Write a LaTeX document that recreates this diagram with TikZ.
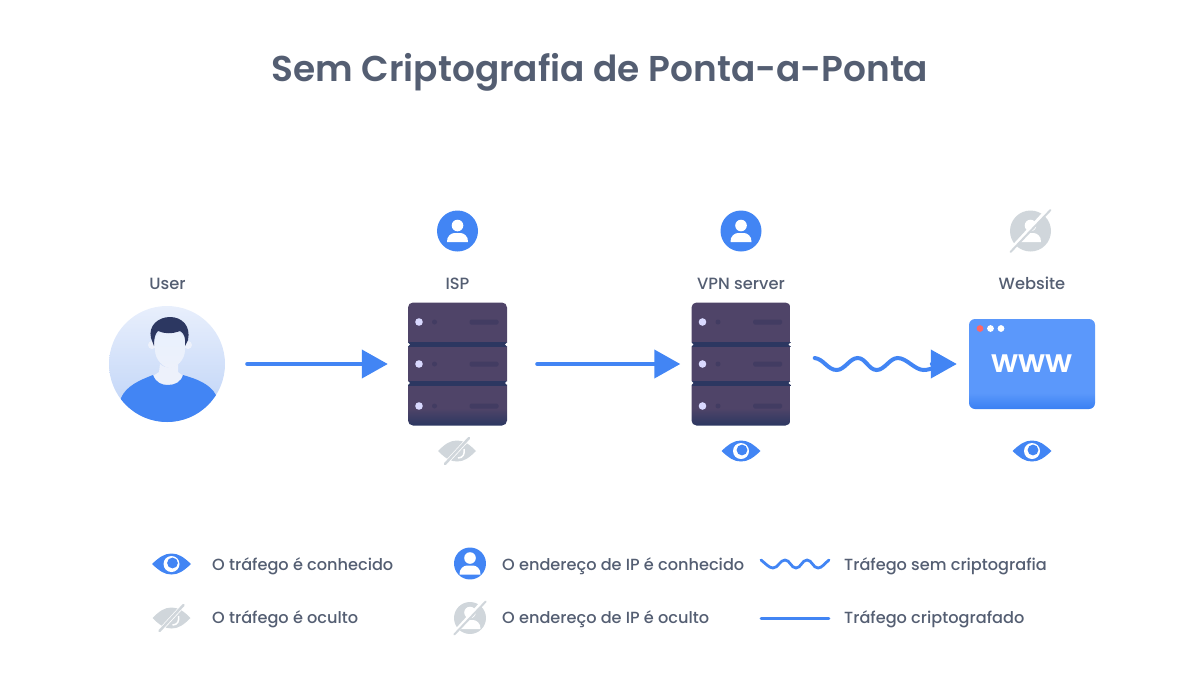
\documentclass[tikz,border=0pt]{standalone}
\usepackage{fontspec}
\setmainfont{Poppins}[UprightFont=* Medium, BoldFont=* SemiBold]
\usepackage{xcolor}
\usetikzlibrary{arrows.meta,calc}
\definecolor{blue-main}{HTML}{4285F4}
\definecolor{grey-off}{HTML}{D0D6DB}
\definecolor{text-main}{HTML}{545E72}
\definecolor{rack-main}{HTML}{4F4468}
\definecolor{rack-dark}{HTML}{2C3761}
\definecolor{rack-spot}{HTML}{423C62}
\definecolor{web-main}{HTML}{5B98FB}
\definecolor{web-low}{HTML}{3A80F3}
\definecolor{disc-top}{HTML}{E8EFFC}
\definecolor{disc-low}{HTML}{BDD2F7}
\definecolor{skin-pale}{HTML}{EDF1FB}
\pgfdeclareverticalshading{rack-shade}{100bp}{color(0bp)=(rack-dark);color(25bp)=(rack-dark);color(32bp)=(rack-main);color(100bp)=(rack-main)}
\pgfdeclareverticalshading{web-shade}{100bp}{color(0bp)=(web-low);color(25bp)=(web-low);color(34bp)=(web-main);color(100bp)=(web-main)}
\tikzset{
    title-text/.style = {font=\fontsize{35.9}{44}\selectfont\bfseries, text=text-main, inner sep=0pt},
    name-text/.style = {font=\fontsize{16.3}{20}\selectfont, text=text-main, inner sep=0pt, anchor=base},
    legend-text/.style = {font=\fontsize{16.15}{20}\selectfont, text=text-main, inner sep=0pt, anchor=west},
    flow-tip/.style = {-{Triangle[length=26pt,width=28pt]}},
    flow-line/.style = {draw=blue-main, line width=4pt, line cap=round},
    wave-line/.style = {draw=blue-main, line width=4pt, line cap=round},
    legend-line/.style = {draw=blue-main, line width=2.8pt, line cap=round},
    user-disc/.style = {circle, minimum size=116pt, inner sep=0pt, top color=disc-top, bottom color=disc-low},
    rack-box/.style = {rectangle, rounded corners=5pt, minimum width=99pt, minimum height=123pt, inner sep=0pt, shading=rack-shade},
    web-box/.style = {rectangle, rounded corners=6pt, minimum width=126pt, minimum height=90pt, inner sep=0pt, shading=web-shade},
    pics/rack-parts/.style = {code = {
        \foreach \rowy in {-42,0,42} {
            \fill[white!85!blue] (-38.5,\rowy) circle (3.8);
            \fill[rack-spot] (-23,\rowy) circle (2.5);
            \fill[rack-spot, rounded corners=1.5pt] (12,\rowy-2.5) rectangle (41,\rowy+2.5);
        }
        \foreach \stripy in {-19.5,19} {
            \fill[rack-dark] (-49.5,\stripy-2.5) rectangle (49.5,\stripy+2.5);
            \fill[white] (-49.5,\stripy) circle (1.8);
            \fill[white] (49.5,\stripy) circle (1.8);
        }
    }},
    pics/person-shape/.style = {code = {
        \fill[white] (0,-5.5) circle (5.8);
        \fill[white] (-10.5,11) .. controls (-11,5) and (-6,2) .. (-3,2) -- (3,2) .. controls (6,2) and (11,5) .. (10.5,11) -- cycle;
    }},
    pics/person-on/.style = {code = {
        \fill[blue-main] (0,0) circle (20.5);
        \pic {person-shape};
    }},
    pics/person-off/.style = {code = {
        \fill[grey-off] (0,0) circle (20.5);
        \pic {person-shape};
        \draw[white, line width=4pt] (17,-21) -- (-19,18);
        \draw[grey-off, line width=2pt, line cap=round] (20,-21) -- (-20,21);
    }},
    pics/eye-on/.style = {code = {
        \fill[blue-main] (-19.5,0) .. controls (-12,-7) and (-7,-10.5) .. (0,-10.5) .. controls (7,-10.5) and (12,-7) .. (19.5,0) .. controls (12,7) and (7,10.5) .. (0,10.5) .. controls (-7,10.5) and (-12,7) .. cycle;
        \fill[white] (0,0) circle (8);
        \fill[blue-main] (1,-1) circle (5.4);
    }},
    pics/eye-off/.style = {code = {
        \fill[grey-off] (-19,0) .. controls (-12,-7) and (-7,-10.5) .. (0,-10.5) .. controls (7,-10.5) and (12,-7) .. (19,0) .. controls (12,7) and (7,10.5) .. (0,10.5) .. controls (-7,10.5) and (-12,7) .. cycle;
        \draw[white, line width=1.5pt] (1,7) .. controls (6,7) and (8,3) .. (7,-2);
        \draw[white, line width=4pt] (13,-14) -- (-11,12);
        \draw[grey-off, line width=2.5pt, line cap=round] (12,-13) -- (-12,13);
    }},
}

\begin{document}
\begin{tikzpicture}[x=1pt,y=-1pt]
\useasboundingbox (0,0) rectangle (1200,675);
\node[title-text] (main-title) at (600,72) {Sem Criptografia de Ponta-a-Ponta};

% the four stations
\node[user-disc] (user) at (167,364) {};
\node[rack-box] (isp) at (457.5,364) {};
\node[rack-box] (vpn) at (741,364) {};
\node[web-box] (web) at (1032,364) {};
\pic at (isp) {rack-parts};
\pic at (vpn) {rack-parts};

\node[name-text] (user-name) at (167.5,289) {User};
\node[name-text] (isp-name) at (457.5,289) {ISP};
\node[name-text] (vpn-name) at (741,289) {VPN server};
\node[name-text] (web-name) at (1032,289) {Website};

% head and shoulders
\begin{scope}
\clip (user) circle (58);
\fill[skin-pale] (152,345) circle (4) (188,345) circle (4);
\shade[top color=blue-main!12!white, bottom color=skin-pale] (155,340) .. controls (155,328) and (185,328) .. (185,340) -- (185,350) .. controls (185,360) and (176,368) .. (170,368) .. controls (164,368) and (155,360) .. (155,350) -- cycle;
\fill[rack-dark] (151,338) .. controls (148,326) and (158,317) .. (170,317) .. controls (182,317) and (191,326) .. (188,340) -- (185,346) .. controls (186,338) and (184,333) .. (180,331) .. controls (172,334) and (165,334) .. (158,331) .. controls (155,334) and (154,338) .. (154,346) -- cycle;
\fill[skin-pale] (160,364) -- (159,372) -- (150,378) -- (150,392) -- (186,392) -- (186,378) -- (178,372) -- (178,364) .. controls (172,369) and (166,369) .. (160,364) -- cycle;
\fill[blue-main] (121,398) .. controls (126,386) and (140,380) .. (153,375) .. controls (156,383) and (162,385) .. (168,385) .. controls (175,385) and (181,382) .. (183,375) .. controls (197,379) and (210,384) .. (216,395) -- (216,430) -- (118,430) -- cycle;
\end{scope}

% website window
\fill[red!60!white] (980,328.5) circle (3.4);
\fill[white] (990.5,328.5) circle (3.4);
\fill[white] (1001,328.5) circle (3.4);
\node[font=\fontsize{32}{32}\selectfont\bfseries, text=white, inner sep=0pt] (web-www) at (1032,363.5) {www};

% icons over and under the stations
\pic at (457.5,231) {person-on};
\pic at (741,231) {person-on};
\pic at (1030.5,231) {person-off};
\pic at (457,451) {eye-off};
\pic at (741,451) {eye-on};
\pic at (1032,451) {eye-on};

% connectors
\draw[flow-line, flow-tip] ($(user.east)+(22,0)$) -- ($(isp.west)+(-20,0)$);
\draw[flow-line, flow-tip] ($(isp.east)+(30,0)$) -- ($(vpn.west)+(-11,0)$);
\coordinate (wave-start) at ($(vpn.east)+(24,-6)$);
\coordinate (wave-end) at ($(web.west)+(-12,0)$);
\draw[wave-line, flow-tip] (wave-start) .. controls +(9,1) and +(-9,0) .. ++(22,12)
  .. controls +(8,0) and +(-8,0) .. ++(21,-12)
  .. controls +(8,0) and +(-8,0) .. ++(19,12)
  .. controls +(8,0) and +(-8,0) .. ++(21,-12)
  .. controls +(9,0) and +(-9,0) .. ++(26,12)
  .. controls +(8,0) and +(-14,0) .. (wave-end);

% legend
\pic at (171.5,564) {eye-on};
\pic at (171.5,618) {eye-off};
\pic[scale=.78] at (470,563.5) {person-on};
\pic[scale=.78] at (470,618) {person-off};
\node[legend-text] (key-seen) at (212,566) {O tráfego é conhecido};
\node[legend-text] (key-hidden) at (212,619.5) {O tráfego é oculto};
\node[legend-text] (key-ip-seen) at (502,566) {O endereço de IP é conhecido};
\node[legend-text] (key-ip-hidden) at (502,619.5) {O endereço de IP é oculto};
\node[legend-text] (key-wave) at (844,566) {Tráfego sem criptografia};
\node[legend-text] (key-line) at (844,619.5) {Tráfego criptografado};
\coordinate (wave-a) at (761,560);
\coordinate (wave-b) at (829,560);
\coordinate (line-a) at (761,618.5);
\coordinate (line-b) at (829,618.5);
\draw[legend-line] (wave-a) .. controls +(4,3) and +(-4,0) .. ++(12,8)
  .. controls +(5,0) and +(-5,0) .. ++(12,-8)
  .. controls +(5,0) and +(-5,0) .. ++(11,8)
  .. controls +(5,0) and +(-5,0) .. ++(11,-8)
  .. controls +(5,0) and +(-5,0) .. ++(11,8)
  .. controls +(4,0) and +(-4,3) .. (wave-b);
\draw[legend-line] (line-a) -- (line-b);
\end{tikzpicture}
\end{document}
